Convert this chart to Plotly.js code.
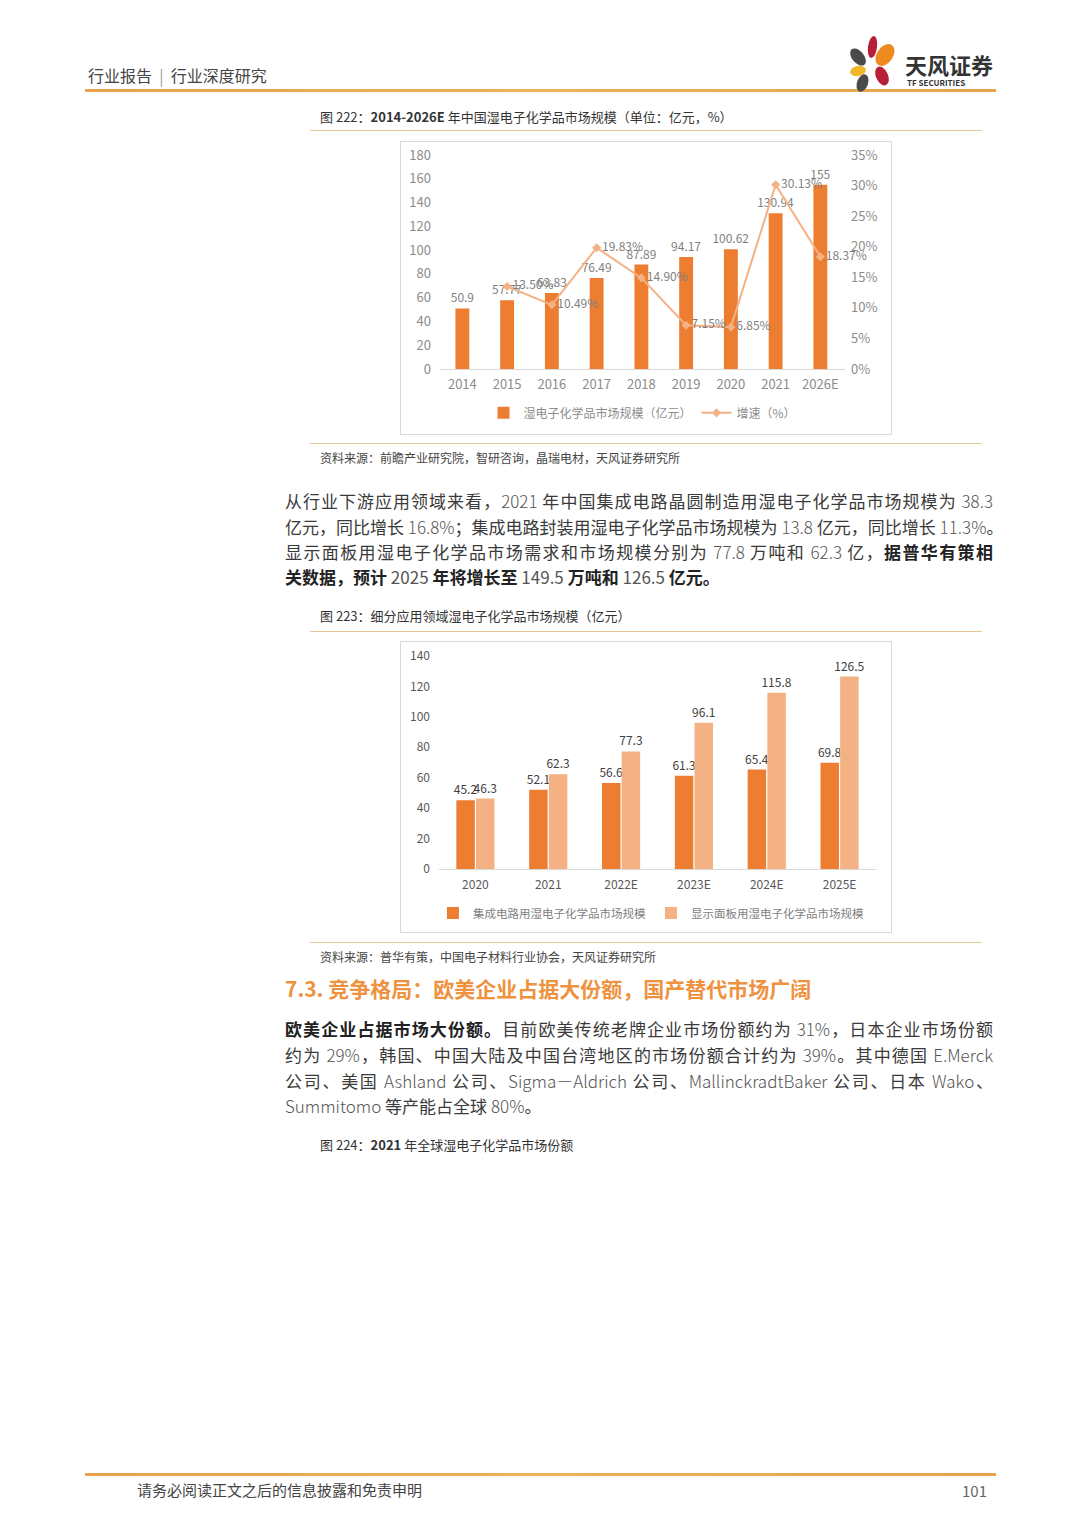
<!DOCTYPE html>
<html><head><meta charset="utf-8">
<script src="https://cdn.plot.ly/plotly-3.0.1.min.js"></script>
<style>
body{margin:0;background:#fff;}
#page{position:relative;width:1080px;height:1527px;background:#fff;font-family:"Noto Sans CJK SC","Noto Sans",sans-serif;color:#333;overflow:hidden;}
.t{position:absolute;white-space:nowrap;}
.hl{position:absolute;height:3px;background:linear-gradient(90deg,#E7A24A,#EDB15A,#E7A24A);}
.fl{position:absolute;height:1px;background:#E6C79C;}
.box{position:absolute;border:1px solid #d9d9d9;box-sizing:border-box;}
.pl{position:absolute;left:285px;width:708px;font-size:17px;line-height:25px;height:25px;text-align:justify;text-align-last:justify;white-space:nowrap;color:#3a3a3a;}
.pl.last{text-align-last:left;}
.n{color:#555;font-weight:300;}
.b{font-weight:700;color:#222;}
.pet{position:absolute;border-radius:50%;}
</style></head>
<body><div id="page">
<!-- header -->
<div class="t" style="left:88px;top:64px;font-size:16px;line-height:22px;color:#444;">行业报告 <span style="color:#999">&nbsp;|&nbsp;</span> 行业深度研究</div>
<div class="hl" style="left:85px;top:89px;width:911px;"></div>
<!-- logo -->
<div class="pet" style="left:868px;top:36px;width:9px;height:22px;background:#B8203A;transform:rotate(8deg);"></div>
<div class="pet" style="left:852px;top:47px;width:12px;height:20px;background:#4a4a4a;transform:rotate(-40deg);"></div>
<div class="pet" style="left:877px;top:43px;width:16px;height:24px;background:#EE8A1F;transform:rotate(35deg);"></div>
<div class="pet" style="left:850px;top:66px;width:16px;height:10px;background:#F2B62B;transform:rotate(-10deg);"></div>
<div class="pet" style="left:876px;top:66px;width:12px;height:20px;background:#B8203A;transform:rotate(-25deg);"></div>
<div class="pet" style="left:857px;top:74px;width:11px;height:18px;background:#4a4a4a;transform:rotate(20deg);"></div>
<div class="t" style="left:905px;top:50px;font-size:22px;line-height:28px;font-weight:700;color:#333;letter-spacing:0px;">天风证券</div>
<div class="t" style="left:907px;top:78px;font-size:8px;line-height:10px;font-weight:700;color:#333;">TF SECURITIES</div>

<!-- figure 222 -->
<div class="t" style="left:320px;top:108px;font-size:13px;line-height:18px;color:#333;">图 222：<b>2014-2026E</b> 年中国湿电子化学品市场规模（单位：亿元，%）</div>
<div class="fl" style="left:310px;top:130px;width:672px;"></div>
<div class="box" style="left:400px;top:141px;width:492px;height:294px;"></div>
<div id="c1" style="position:absolute;left:400px;top:141px;width:491px;height:293px;"></div>
<div class="fl" style="left:310px;top:443px;width:672px;"></div>
<div class="t" style="left:320px;top:450px;font-size:12px;line-height:16px;color:#444;">资料来源：前瞻产业研究院，智研咨询，晶瑞电材，天风证券研究所</div>

<!-- paragraph 1 -->
<div class="pl" style="top:488px;">从行业下游应用领域来看，<span class="n">2021</span> 年中国集成电路晶圆制造用湿电子化学品市场规模为 <span class="n">38.3</span></div>
<div class="pl" style="top:514px;">亿元，同比增长 <span class="n">16.8%</span>；集成电路封装用湿电子化学品市场规模为 <span class="n">13.8</span> 亿元，同比增长 <span class="n">11.3%</span>。</div>
<div class="pl" style="top:539px;">显示面板用湿电子化学品市场需求和市场规模分别为 <span class="n">77.8</span> 万吨和 <span class="n">62.3</span> 亿，<span class="b">据普华有策相</span></div>
<div class="pl last" style="top:564px;"><span class="b">关数据，预计 <span class="n" style="font-weight:400">2025</span> 年将增长至 <span class="n" style="font-weight:400">149.5</span> 万吨和 <span class="n" style="font-weight:400">126.5</span> 亿元。</span></div>

<!-- figure 223 -->
<div class="t" style="left:320px;top:607px;font-size:13px;line-height:18px;color:#333;">图 223：细分应用领域湿电子化学品市场规模（亿元）</div>
<div class="fl" style="left:310px;top:631px;width:672px;"></div>
<div class="box" style="left:400px;top:641px;width:492px;height:292px;"></div>
<div id="c2" style="position:absolute;left:400px;top:641px;width:491px;height:291px;"></div>
<div class="fl" style="left:310px;top:942px;width:672px;"></div>
<div class="t" style="left:320px;top:949px;font-size:12px;line-height:16px;color:#444;">资料来源：普华有策，中国电子材料行业协会，天风证券研究所</div>

<!-- section heading -->
<div class="t" style="left:285px;top:974px;font-size:21px;line-height:28px;font-weight:700;color:#EE9240;">7.3. 竞争格局：欧美企业占据大份额，国产替代市场广阔</div>

<!-- paragraph 2 -->
<div class="pl" style="top:1016px;"><span class="b">欧美企业占据市场大份额。</span>目前欧美传统老牌企业市场份额约为 <span class="n">31%</span>，日本企业市场份额</div>
<div class="pl" style="top:1042px;">约为 <span class="n">29%</span>，韩国、中国大陆及中国台湾地区的市场份额合计约为 <span class="n">39%</span>。其中德国 <span class="n">E.Merck</span></div>
<div class="pl" style="top:1068px;">公司、美国 <span class="n">Ashland</span> 公司、<span class="n">Sigma－Aldrich</span> 公司、<span class="n">MallinckradtBaker</span> 公司、日本 <span class="n">Wako</span>、</div>
<div class="pl last" style="top:1093px;"><span class="n">Summitomo</span> 等产能占全球 <span class="n">80%</span>。</div>

<div class="t" style="left:320px;top:1136px;font-size:13px;line-height:18px;color:#333;">图 224：<b>2021</b> 年全球湿电子化学品市场份额</div>

<!-- footer -->
<div class="hl" style="left:85px;top:1473px;width:911px;"></div>
<div class="t" style="left:137px;top:1480px;font-size:15px;line-height:20px;color:#444;">请务必阅读正文之后的信息披露和免责申明</div>
<div class="t" style="left:962px;top:1481px;font-size:15px;line-height:20px;color:#666;">101</div>
</div>
<script>
// Chart 1 data
const years1 = ['2014','2015','2016','2017','2018','2019','2020','2021','2026E'];
const market1 = [50.9, 57.77, 63.83, 76.49, 87.89, 94.17, 100.62, 130.94, 155];
const growthYears = ['2015','2016','2017','2018','2019','2020','2021','2026E'];
const growth = [0.1350, 0.1049, 0.1983, 0.1490, 0.0715, 0.0685, 0.3013, 0.1837];
const growthLabels = ['13.50%','10.49%','19.83%','14.90%','7.15%','6.85%','30.13%','18.37%'];
const leftTicks1 = [0,20,40,60,80,100,120,140,160,180];
const rightTicks1 = [0,0.05,0.10,0.15,0.20,0.25,0.30,0.35];

// Chart 2 data
const years2 = ['2020','2021','2022E','2023E','2024E','2025E'];
const icMarket = [45.2, 52.1, 56.6, 61.3, 65.4, 69.8];
const panelMarket = [46.3, 62.3, 77.3, 96.1, 115.8, 126.5];
const leftTicks2 = [0,20,40,60,80,100,120,140];

const FONT = '"Noto Sans CJK SC","Noto Sans",sans-serif';

Plotly.newPlot('c1', [
  {type:'bar', x:years1, y:market1, name:'湿电子化学品市场规模（亿元）',
   marker:{color:'#ED7D31'}, text:market1.map(String), textposition:'outside', constraintext:'none',
   textfont:{size:12,color:'#7f7f7f'}, cliponaxis:false, hoverinfo:'none'},
  {type:'scatter', mode:'lines+markers+text', x:growthYears, y:growth, yaxis:'y2', name:'增速（%）',
   line:{color:'#F4B183',width:2}, marker:{symbol:'diamond',size:7,color:'#F4B183'},
   text:growthLabels, textposition:'middle right', textfont:{size:12,color:'#7f7f7f'}, cliponaxis:false, hoverinfo:'none'}
], {
  width:491, height:293, margin:{l:40,r:46,t:14,b:65,autoexpand:false},
  paper_bgcolor:'rgba(0,0,0,0)', plot_bgcolor:'rgba(0,0,0,0)',
  font:{family:FONT,size:13,color:'#8c8c8c'},
  bargap:0.69, showlegend:true,
  xaxis:{type:'category', showgrid:false, showline:true, linecolor:'#d9d9d9', linewidth:1, ticks:'', ticklabelstandoff:3, tickfont:{size:13,color:'#8c8c8c'}},
  yaxis:{range:[0,180], tickvals:leftTicks1, showgrid:false, zeroline:false, showline:false, ticks:'', ticklabelstandoff:8, tickfont:{size:13,color:'#8c8c8c'}},
  yaxis2:{range:[0,0.35], overlaying:'y', side:'right', tickvals:rightTicks1, tickformat:'.0%', showgrid:false, zeroline:false, showline:false, ticks:'', ticklabelstandoff:5, tickfont:{size:13,color:'#8c8c8c'}},
  legend:{orientation:'h', x:0.5, xanchor:'center', y:-0.205, yanchor:'middle', font:{size:12,color:'#8c8c8c'}, itemwidth:30}
}, {staticPlot:true});

Plotly.newPlot('c2', [
  {type:'bar', x:years2, y:icMarket, name:'集成电路用湿电子化学品市场规模',
   marker:{color:'#ED7D31'}, text:icMarket.map(v=>v.toFixed(1)), textposition:'outside', constraintext:'none',
   textfont:{size:12,color:'#404040'}, cliponaxis:false, hoverinfo:'none'},
  {type:'bar', x:years2, y:panelMarket, name:'显示面板用湿电子化学品市场规模',
   marker:{color:'#F4B183'}, text:panelMarket.map(v=>v.toFixed(1)), textposition:'outside', constraintext:'none',
   textfont:{size:12,color:'#404040'}, cliponaxis:false, hoverinfo:'none'}
], {
  width:491, height:291, margin:{l:39,r:15,t:15,b:63,autoexpand:false},
  paper_bgcolor:'rgba(0,0,0,0)', plot_bgcolor:'rgba(0,0,0,0)',
  font:{family:FONT,size:12,color:'#595959'},
  barmode:'group', bargap:0.46, bargroupgap:0.06, showlegend:true,
  xaxis:{type:'category', showgrid:false, showline:true, linecolor:'#d9d9d9', linewidth:1, ticks:'', ticklabelstandoff:5, tickfont:{size:12,color:'#595959'}},
  yaxis:{range:[0,140], tickvals:leftTicks2, showgrid:false, zeroline:false, showline:false, ticks:'', ticklabelstandoff:8, tickfont:{size:12,color:'#595959'}},
  legend:{orientation:'h', x:0.485, xanchor:'center', y:-0.207, yanchor:'middle', font:{size:11.5,color:'#7f7f7f'}, itemwidth:30}
}, {staticPlot:true});
</script>
</body></html>
